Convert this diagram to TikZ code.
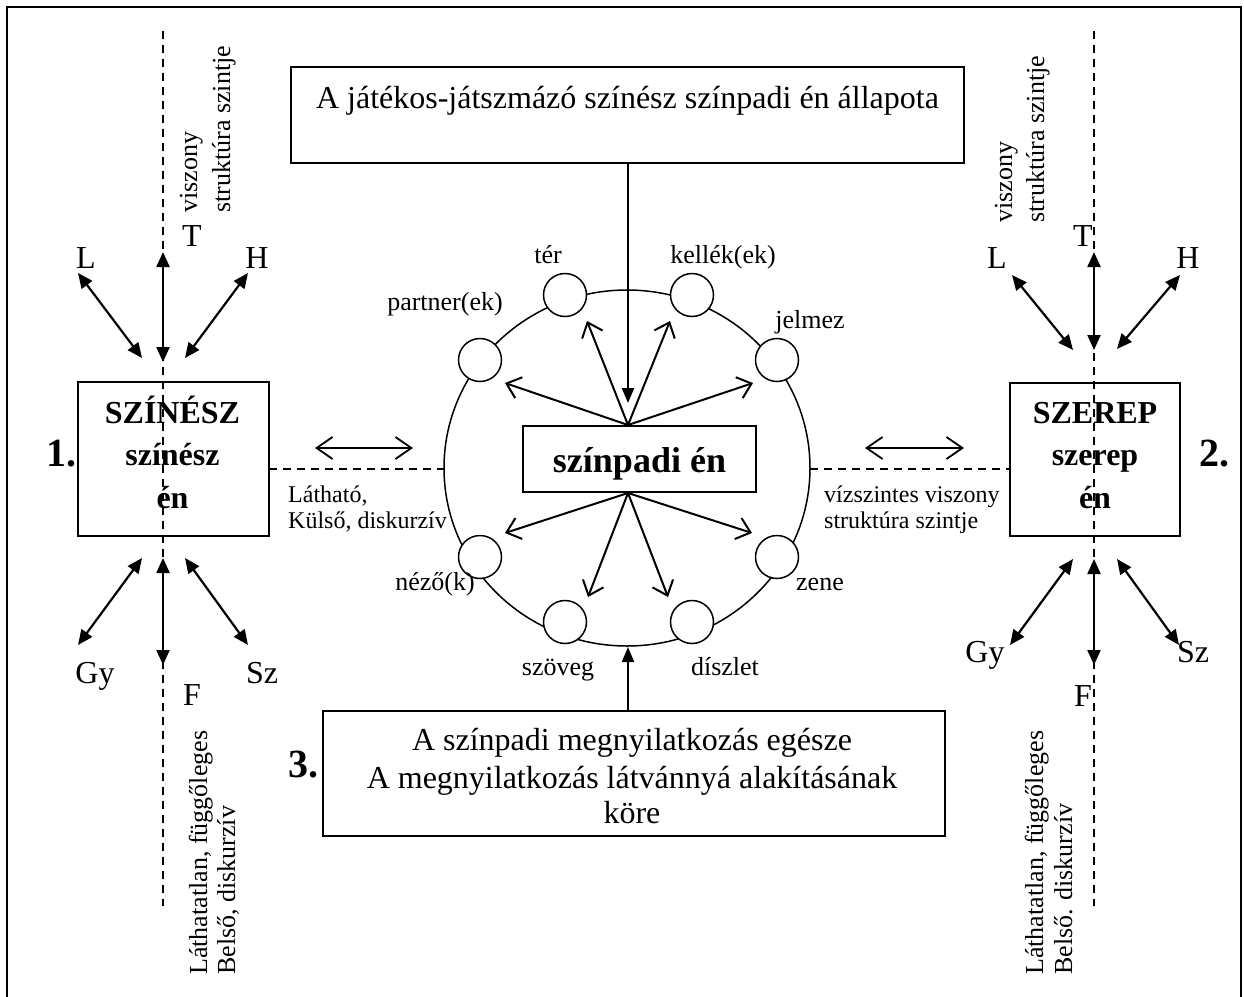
\documentclass[tikz,border=0pt]{standalone}
\usepackage{fontspec}
\setmainfont{Liberation Serif}
\usetikzlibrary{arrows.meta}
\begin{document}
\begin{tikzpicture}[x=1pt,y=-1pt,
  boxframe/.style={draw,line width=1.6pt,inner sep=0pt,minimum width=#1},
  dashln/.style={line width=1.4pt,dash pattern=on 8pt off 6pt},
  dblarrow/.style={line width=2.2pt,{Triangle[length=15pt,width=13pt]}-{Triangle[length=15pt,width=13pt]}},
  openarrow/.style={line width=2pt,-{Straight Barb[length=13pt,width=22pt,line width=2pt]}},
  opendbl/.style={line width=1.8pt,{Straight Barb[length=16pt,width=22pt,line width=1.8pt]}-{Straight Barb[length=16pt,width=22pt,line width=1.8pt]}},
  fillarrow/.style={line width=2pt,-{Triangle[length=15pt,width=12pt]}},
  smallc/.style={circle,draw,fill=white,line width=1.5pt,minimum size=43pt,inner sep=0pt},
  txt/.style={inner sep=0pt,anchor=base,font=\fontsize{32}{37}\selectfont},
  btxt/.style={inner sep=0pt,anchor=base,font=\fontsize{32}{37}\selectfont\bfseries},
  numtxt/.style={inner sep=0pt,anchor=base,font=\fontsize{40}{44}\selectfont\bfseries},
  clbl/.style={inner sep=0pt,anchor=base,font=\fontsize{26}{30}\selectfont},
  slbl/.style={inner sep=0pt,anchor=base west,font=\fontsize{24}{28}\selectfont},
  vlbl/.style={inner sep=0pt,anchor=base west,rotate=90,font=\fontsize{26}{30}\selectfont},
]
\useasboundingbox (0,0) rectangle (1244,996);
% outer frame (bottom edge outside picture)
\begin{scope}
\clip (0,0) rectangle (1244,996);
\draw[line width=2pt] (7,1010) -- (7,7) -- (1241,7) -- (1241,1010);
\end{scope}

% dashed axes
\coordinate (lvtop) at (163,31);
\coordinate (lvbot) at (163,906);
\coordinate (rvtop) at (1094,31);
\coordinate (rvbot) at (1094,906);
\draw[dashln] (lvtop) -- (lvbot);
\draw[dashln] (rvtop) -- (rvbot);

% boxes
\node[boxframe=673pt,minimum height=96pt] (topbox) at (627.5,115) {};
\node[txt] (toptxt) at (627.5,108) {A játékos-játszmázó színész színpadi én állapota};

\node[boxframe=191pt,minimum height=154pt] (actor) at (173.5,459) {};
\node[btxt] (a1) at (172.5,423) {SZÍNÉSZ};
\node[btxt] (a2) at (172.5,465) {színész};
\node[btxt] (a3) at (172.5,508) {én};
\node[numtxt] (n1) at (61,466) {1.};

\node[boxframe=170pt,minimum height=153pt] (role) at (1095,459.5) {};
\node[btxt] (r1) at (1095,423) {SZEREP};
\node[btxt] (r2) at (1095,465) {szerep};
\node[btxt] (r3) at (1095,508) {én};
\node[numtxt] (n2) at (1214,466) {2.};

\node[boxframe=622pt,minimum height=125pt] (botbox) at (634,773.5) {};
\node[txt] (b1) at (632,750) {A színpadi megnyilatkozás egésze};
\node[txt] (b2) at (632,788) {A megnyilatkozás látvánnyá alakításának};
\node[txt] (b3) at (632,823) {köre};
\node[numtxt] (n3) at (303,777) {3.};

% horizontal dashed lines
\coordinate (lh1) at (269,469);
\coordinate (lh2) at (444,469);
\coordinate (rh1) at (810,469);
\coordinate (rh2) at (1010,469);
\draw[dashln] (lh1) -- (lh2);
\draw[dashln] (rh1) -- (rh2);

% big circle
\draw[line width=1.5pt] (627,468) ellipse [x radius=183, y radius=178];

% center box
\node[boxframe=233pt,minimum height=66pt,fill=white] (stage) at (639.5,459) {};
\node[inner sep=0pt,anchor=base,font=\fontsize{36}{40}\selectfont\bfseries] (stagetxt) at (639.5,472) {színpadi én};

% small circles
\node[smallc] (ter) at (565,295) {};
\node[smallc] (kel) at (692,295) {};
\node[smallc] (par) at (480,360) {};
\node[smallc] (jel) at (777,360) {};
\node[smallc] (nez) at (480,557) {};
\node[smallc] (zen) at (777,557) {};
\node[smallc] (szo) at (565,622) {};
\node[smallc] (dis) at (692,622) {};

% circle labels
\node[clbl] at (548,263) {tér};
\node[clbl] at (723,263) {kellék(ek)};
\node[clbl] at (445,310) {partner(ek)};
\node[clbl] at (810,328) {jelmez};
\node[clbl] at (435,590) {néző(k)};
\node[clbl] at (820,590) {zene};
\node[clbl] at (558,675) {szöveg};
\node[clbl] at (725,675) {díszlet};

% fan arrows
\coordinate (apxt) at (628,425);
\coordinate (apxb) at (628,493);
\coordinate (tpar) at (505,383);
\coordinate (tter) at (587,321);
\coordinate (tkel) at (670,321);
\coordinate (tjel) at (753,383);
\coordinate (tnez) at (505,533);
\coordinate (tszo) at (588,597);
\coordinate (tdis) at (668,597);
\coordinate (tzen) at (752,533);
\foreach \t in {tpar,tter,tkel,tjel} \draw[openarrow] (apxt) -- (\t);
\foreach \t in {tnez,tszo,tdis,tzen} \draw[openarrow] (apxb) -- (\t);

\coordinate (topfoot) at (628,163);
\coordinate (toptip) at (628,403);
\draw[fillarrow] (topfoot) -- (toptip);
\coordinate (botfoot) at (628,711);
\coordinate (bottip) at (628,647);
\draw[fillarrow] (botfoot) -- (bottip);

% horizontal double arrows
\coordinate (lha) at (315,448);
\coordinate (lhb) at (413,448);
\coordinate (rha) at (865,448);
\coordinate (rhb) at (964,448);
\draw[opendbl] (lha) -- (lhb);
\draw[opendbl] (rha) -- (rhb);

% side labels
\node[slbl] at (288,502) {Látható,};
\node[slbl] at (288,528) {Külső, diskurzív};
\node[slbl] at (824,502) {vízszintes viszony};
\node[slbl] at (824,528) {struktúra szintje};

% vertical labels
\node[vlbl] at (197,213) {viszony};
\node[vlbl] at (230,213) {struktúra szintje};
\node[vlbl] at (1012,223) {viszony};
\node[vlbl] at (1044,223) {struktúra szintje};
\node[vlbl] at (207,975) {Láthatatlan, függőleges};
\node[vlbl] at (235,975) {Belső, diskurzív};
\node[vlbl] at (1043,975) {Láthatatlan, függőleges};
\node[vlbl] at (1072,975) {Belső. diskurzív};

% left arrows group
\node[txt] (lL) at (86,268) {L};
\node[txt] (lT) at (192,246) {T};
\node[txt] (lH) at (257,268) {H};
\node[txt] (lGy) at (95,683) {Gy};
\node[txt] (lSz) at (262,683) {Sz};
\node[txt] (lF) at (192,705) {F};
\coordinate (lLa) at (78,273); \coordinate (lLb) at (142,358);
\coordinate (lTa) at (163,252); \coordinate (lTb) at (163,362);
\coordinate (lHa) at (248,273); \coordinate (lHb) at (185,358);
\coordinate (lGa) at (142,558); \coordinate (lGb) at (78,645);
\coordinate (lFa) at (163,558); \coordinate (lFb) at (163,665);
\coordinate (lSa) at (185,558); \coordinate (lSb) at (248,645);
\draw[dblarrow] (lLa) -- (lLb);
\draw[dblarrow] (lTa) -- (lTb);
\draw[dblarrow] (lHa) -- (lHb);
\draw[dblarrow] (lGa) -- (lGb);
\draw[dblarrow] (lFa) -- (lFb);
\draw[dblarrow] (lSa) -- (lSb);

% right arrows group
\node[txt] (rL) at (997,268) {L};
\node[txt] (rT) at (1083,246) {T};
\node[txt] (rH) at (1188,268) {H};
\node[txt] (rGy) at (985,662) {Gy};
\node[txt] (rSz) at (1193,662) {Sz};
\node[txt] (rF) at (1083,706) {F};
\coordinate (rLa) at (1012,275); \coordinate (rLb) at (1073,350);
\coordinate (rTa) at (1094,252); \coordinate (rTb) at (1094,350);
\coordinate (rHa) at (1180,275); \coordinate (rHb) at (1117,349);
\coordinate (rGa) at (1073,559); \coordinate (rGb) at (1010,645);
\coordinate (rFa) at (1094,559); \coordinate (rFb) at (1094,665);
\coordinate (rSa) at (1117,559); \coordinate (rSb) at (1179,645);
\draw[dblarrow] (rLa) -- (rLb);
\draw[dblarrow] (rTa) -- (rTb);
\draw[dblarrow] (rHa) -- (rHb);
\draw[dblarrow] (rGa) -- (rGb);
\draw[dblarrow] (rFa) -- (rFb);
\draw[dblarrow] (rSa) -- (rSb);
\end{tikzpicture}
\end{document}
